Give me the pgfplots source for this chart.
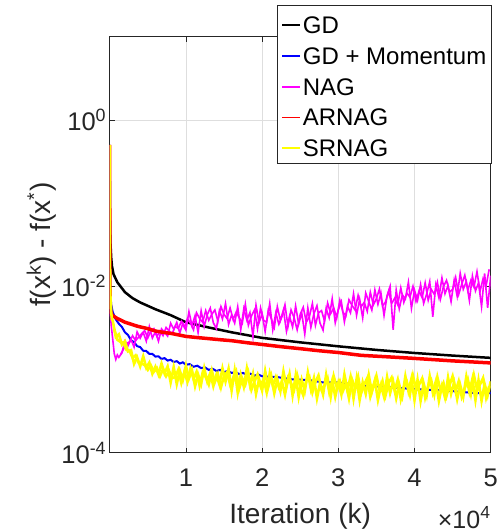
\documentclass[border=0pt]{standalone}
\usepackage{fontspec}
\setmainfont{Liberation Sans}
\usepackage{pgfplots}
\usepackage{pgfplotstable}
\pgfplotsset{compat=1.18}
\definecolor{axc}{RGB}{38,38,38}
\definecolor{grd}{RGB}{222,222,222}
\definecolor{myyellow}{RGB}{255,255,0}
\definecolor{mymag}{RGB}{255,0,255}

\pgfplotstableread{
x y
1 0.45
5 0.2
20 0.09
50 0.05
100 0.033
200 0.022
300 0.0175
500 0.014
1000 0.0112
2000 0.0085
3000 0.0072
4000 0.0064
6000 0.0053
8000 0.0045
10000 0.0037
13000 0.0032
16000 0.0028
20000 0.0024
25000 0.00212
30000 0.0019
35000 0.00172
40000 0.00158
45000 0.00147
50000 0.00138
}\gdtab

\pgfplotstableread{
x y
1 0.5
3 0.2
10 0.04
30 0.011
60 0.0065
100 0.0052
300 0.0045
400 0.00443
600 0.00432
1000 0.0041
1500 0.0039
2000 0.0037
2500 0.00358
3700 0.0033
5000 0.0031
6000 0.0029
7000 0.0028
8200 0.0027
10000 0.0025
11500 0.00242
13000 0.00235
14500 0.00228
16000 0.00222
18000 0.0021
20000 0.0020
22500 0.00188
25000 0.00178
27500 0.00168
30000 0.0016
33000 0.00148
36500 0.00142
40000 0.00136
45000 0.00127
50000 0.0012
}\arnagtab

\pgfplotstableread{
x y
1 0.5
3 0.2
10 0.05
30 0.016
60 0.0105
100 0.0078
200 0.006
400 0.0049
800 0.0040
1200 0.00355
1600 0.00325
2000 0.0028
2400 0.0026
2800 0.00225
3200 0.00213
3600 0.00191
4000 0.00186
4400 0.00168
4800 0.00167
5200 0.00154
5600 0.00154
6000 0.00143
6400 0.00144
6800 0.00134
7200 0.00137
7600 0.00128
8000 0.00131
8400 0.00123
8800 0.00126
9200 0.00118
9600 0.00122
10000 0.00114
10500 0.00116
11000 0.00108
11500 0.00111
12000 0.00104
12500 0.00106
13000 0.00099
13500 0.00102
14000 0.00096
14500 0.00099
15000 0.00093
15500 0.00096
16000 0.00091
16500 0.00093
17000 0.00088
17500 0.00091
18000 0.00086
18500 0.00089
19000 0.00084
19500 0.00087
20000 0.00083
22000 0.00081
24000 0.00076
26000 0.00075
28000 0.00070
30000 0.00070
33000 0.00064
36000 0.00062
40000 0.00058
44000 0.00056
48000 0.00052
50000 0.00052
}\momtab

\pgfplotstableread{
x y
1 0.5
3 0.15
10 0.03
30 0.009
60 0.0055
100 0.0045
200 0.0034
300 0.0028
400 0.0023
600 0.00155
800 0.00132
1000 0.0015
1200 0.0014
1600 0.00158
2000 0.0022
2400 0.00193
2800 0.00229
3200 0.00186
3600 0.00283
4000 0.00238
4400 0.0028
4800 0.00219
5200 0.00328
5600 0.00239
6000 0.00285
6400 0.00219
6800 0.00308
7200 0.0028
7600 0.00252
8000 0.0036
8400 0.00304
8800 0.00368
9200 0.00274
9600 0.00362
10000 0.00298
10400 0.00496
10800 0.00338
11200 0.00443
11600 0.00278
12000 0.00508
12400 0.00328
12800 0.00455
13200 0.00548
13600 0.00365
14000 0.0031
14400 0.00512
14800 0.00405
15200 0.0062
15600 0.00348
16000 0.00453
16400 0.00361
16800 0.00568
17200 0.00302
17600 0.0054
18000 0.00391
18400 0.00483
18800 0.0025
19200 0.00592
19600 0.00365
20000 0.00466
20400 0.00286
20800 0.0051
21200 0.0041
21600 0.0032
22000 0.0057
22400 0.00389
22800 0.00518
23200 0.00288
23600 0.00436
24000 0.00324
24400 0.0058
24800 0.00352
25200 0.00478
25600 0.00267
26000 0.00549
26400 0.0032
26800 0.00469
27200 0.00584
27600 0.00361
28000 0.00297
28400 0.00541
28800 0.00419
29200 0.0071
29600 0.00364
30000 0.0052
30400 0.00653
30800 0.00374
31200 0.00578
31600 0.0048
32000 0.00812
32400 0.00449
32800 0.00696
33200 0.00417
33600 0.00831
34000 0.00655
34400 0.00518
34800 0.00904
35200 0.00607
35600 0.00824
36000 0.00446
36400 0.00768
36800 0.0100
37200 0.0030
37600 0.00902
38000 0.00536
38400 0.0079
38800 0.00706
39200 0.0112
39600 0.00544
40000 0.00897
40400 0.00678
40800 0.0105
41200 0.00624
41600 0.0081
42000 0.0114
42400 0.0043
42800 0.0104
43200 0.00731
43600 0.0126
44000 0.00814
44400 0.0102
44800 0.00655
45200 0.0118
45600 0.00761
46000 0.0143
46400 0.00922
46800 0.0114
47200 0.00676
47600 0.0133
48000 0.0088
48400 0.011
48800 0.00571
49200 0.0143
49600 0.0055
50000 0.0134
}\nagtab

\pgfplotstableread{
x y
1400 0.00150
1800 0.00175
2200 0.00205
2600 0.00215
3000 0.00255
3400 0.00222
3800 0.00245
4200 0.0027
4600 0.00292
5000 0.0024
5400 0.0029
5800 0.0031
6200 0.0025
6600 0.0029
7000 0.00255
7400 0.0032
7800 0.0029
8200 0.0027
8600 0.0033
9000 0.0031
9400 0.0038
9800 0.0032
10200 0.0041
10600 0.0036
11000 0.0030
11400 0.0048
11800 0.0041
12200 0.0037
12600 0.0051
13000 0.0039
13400 0.0046
13800 0.0052
14200 0.0038
14600 0.0057
15000 0.0046
15400 0.0041
15800 0.0055
16200 0.0040
16600 0.0049
17000 0.0042
17400 0.0036
17800 0.0061
18200 0.0034
18600 0.0044
19000 0.0052
19400 0.0031
19800 0.0055
20200 0.0039
20600 0.0037
21000 0.0062
21400 0.0030
21800 0.0048
22200 0.0035
22600 0.0043
23000 0.0060
23400 0.0033
23800 0.0052
24200 0.0042
24600 0.0030
25000 0.0046
25400 0.0056
25800 0.0037
26200 0.0043
26600 0.0062
27000 0.0034
27400 0.0048
27800 0.0051
28200 0.0038
28600 0.0063
29000 0.0047
29400 0.0055
29800 0.0042
30200 0.0068
30600 0.0049
31000 0.0044
31400 0.0069
31800 0.0059
32200 0.0052
32600 0.0078
33000 0.0057
33400 0.0064
33800 0.0050
34200 0.0085
34600 0.0060
35000 0.0071
35400 0.0093
35800 0.0058
36200 0.0065
36600 0.0087
37000 0.0062
37400 0.0072
37800 0.0060
38200 0.0096
38600 0.0064
39000 0.0083
39400 0.0074
39800 0.0100
40200 0.0066
40600 0.0088
41000 0.0073
41400 0.0110
41800 0.0068
42200 0.0092
42600 0.0080
43000 0.0112
43400 0.0070
43800 0.0099
44200 0.0118
44600 0.0085
45000 0.0092
45400 0.0128
45800 0.0080
46200 0.0106
46600 0.0136
47000 0.0090
47400 0.0118
47800 0.0098
48200 0.0150
48600 0.0087
49000 0.0124
49400 0.0102
49800 0.0160
}\nagbtab

\pgfplotstableread{
x y
1 0.5
3 0.2
10 0.05
30 0.017
60 0.01
100 0.0075
200 0.0048
300 0.0040
400 0.00385
800 0.00246
1200 0.00265
1600 0.0020
2000 0.00219
2400 0.00165
2800 0.00171
3200 0.00117
3600 0.0014
4000 0.00109
4400 0.00144
4800 0.00105
5200 0.00121
5600 0.00089
6000 0.00108
6400 0.00087
6800 0.00118
7200 0.0009
7600 0.00109
8000 0.0007
8400 0.00107
8800 0.00067
9200 0.00097
9600 0.00075
10000 0.00111
10400 0.00078
10800 0.00098
11200 0.00063
11600 0.00087
12000 0.00067
12400 0.00104
12800 0.00072
13200 0.00091
13600 0.00063
14000 0.00086
14400 0.00066
14800 0.00103
15200 0.00072
15600 0.00102
16000 0.00056
16400 0.00097
16800 0.00053
17200 0.00086
17600 0.00062
18000 0.00103
18400 0.00065
18800 0.00089
19200 0.00051
19600 0.00076
20000 0.00056
20400 0.00096
20800 0.00061
21200 0.00083
21600 0.00052
22000 0.00076
22400 0.00055
22800 0.00095
23200 0.00062
23600 0.00088
24000 0.00049
24400 0.00084
24800 0.00047
25200 0.00075
25600 0.00055
26000 0.00092
26400 0.00058
26800 0.00079
27200 0.00045
27600 0.00068
28000 0.00050
28400 0.00086
28800 0.00054
29200 0.00074
29600 0.00047
30000 0.00069
30400 0.00050
30800 0.00087
31200 0.00057
31600 0.00081
32000 0.00045
32400 0.00077
32800 0.00043
33200 0.00070
33600 0.00051
34000 0.00085
34400 0.00054
34800 0.00074
35200 0.00043
35600 0.00064
36000 0.00047
36400 0.00081
36800 0.00052
37200 0.00071
37600 0.00045
38000 0.00066
38400 0.00048
38800 0.00083
39200 0.00055
39600 0.00078
40000 0.00043
40400 0.00075
40800 0.00042
41200 0.00068
41600 0.00049
42000 0.00083
42400 0.00053
42800 0.00072
43200 0.00042
43600 0.00063
44000 0.00046
44400 0.00080
44800 0.00051
45200 0.00070
45600 0.00044
46000 0.00065
46400 0.00047
46800 0.00082
47200 0.00054
47600 0.00077
48000 0.00043
48400 0.00074
48800 0.00042
49200 0.00067
49600 0.00049
50000 0.00072
}\srnagtab

\pgfplotstableread{
x y
600 0.00305
1000 0.00228
1400 0.00215
1800 0.00208
2200 0.00172
2600 0.00168
3000 0.00138
3400 0.00148
3800 0.00121
4200 0.00118
4600 0.00113
5000 0.00099
5400 0.00112
5800 0.00094
6200 0.00104
6600 0.00083
7000 0.00101
7400 0.00083
7800 0.00096
8200 0.00079
8600 0.00081
9000 0.00099
9400 0.00069
9800 0.00094
10200 0.00071
10600 0.00102
11000 0.00077
11400 0.00094
11800 0.00064
12200 0.00092
12600 0.00081
13000 0.00066
13400 0.00097
13800 0.00071
14200 0.00088
14600 0.00061
15000 0.00084
15400 0.00093
15800 0.00066
16200 0.00079
16600 0.00095
17000 0.00059
17400 0.00078
17800 0.00066
18200 0.00091
18600 0.00057
19000 0.00072
19400 0.00087
19800 0.00063
20200 0.00077
20600 0.00053
21000 0.00090
21400 0.00064
21800 0.00081
22200 0.00061
22600 0.00072
23000 0.00050
23400 0.00079
23800 0.00068
24200 0.00057
24600 0.00086
25000 0.00062
25400 0.00049
25800 0.00074
26200 0.00082
26600 0.00053
27000 0.00071
27400 0.00085
27800 0.00058
28200 0.00064
28600 0.00078
29000 0.00047
29400 0.00083
29800 0.00061
30200 0.00073
30600 0.00055
31000 0.00068
31400 0.00045
31800 0.00076
32200 0.00060
32600 0.00082
33000 0.00052
33400 0.00066
33800 0.00079
34200 0.00047
34600 0.00063
35000 0.00084
35400 0.00057
35800 0.00073
36200 0.00049
36600 0.00069
37000 0.00080
37400 0.00056
37800 0.00075
38200 0.00044
38600 0.00062
39000 0.00071
39400 0.00050
39800 0.00084
40200 0.00059
40600 0.00066
41000 0.00078
41400 0.00046
41800 0.00063
42200 0.00074
42600 0.00050
43000 0.00081
43400 0.00057
43800 0.00069
44200 0.00048
44600 0.00065
45000 0.00083
45400 0.00055
45800 0.00072
46200 0.00047
46600 0.00060
47000 0.00076
47400 0.00051
47800 0.00085
48200 0.00058
48600 0.00066
49000 0.00079
49400 0.00046
49800 0.00063
}\srnagbtab

\begin{document}
\begin{tikzpicture}
\path[use as bounding box] (-109.7pt,-79.3pt) rectangle (391.3pt,452.7pt);
\begin{axis}[
  name=ax,
  at={(0pt,0pt)}, anchor=south west,
  scale only axis, width=381pt, height=416pt,
  xmin=0, xmax=50000, ymin=1e-4, ymax=10,
  ymode=log,
  xtick={10000,20000,30000,40000,50000},
  xticklabels={1,2,3,4,5},
  scaled x ticks=false,
  ytick={1e-4,1e-2,1},
  yticklabels={10\textsuperscript{-4},10\textsuperscript{-2},10\textsuperscript{0}},
  minor ytick={},
  grid=major,
  major grid style={grd, line width=0.8pt},
  axis line style={axc, line width=0.8pt},
  tick style={axc, line width=0.8pt},
  major tick length=5pt,
  tick label style={font=\fontsize{25.5}{30}\selectfont, text=axc},
  xticklabel style={anchor=base, yshift=-34pt},
  xlabel={Iteration (k)},
  ylabel={f(x\textsuperscript{k}) - f(x\textsuperscript{*})},
  every axis x label/.style={at={(axis description cs:0.5,0)}, anchor=base, yshift=-70.6pt, font=\fontsize{28}{33}\selectfont, text=axc},
  every axis y label/.style={at={(axis description cs:-0.1567,0.5)}, anchor=base, rotate=90, font=\fontsize{28}{33}\selectfont, text=axc},
]
\addplot[black, line width=2.5pt] table {\gdtab};
\addplot[blue, line width=2pt] table {\momtab};
\addplot[mymag, line width=1.6pt] table {\nagtab};
\addplot[mymag, line width=1.6pt] table {\nagbtab};
\addplot[red, line width=3.5pt] table {\arnagtab};
\addplot[myyellow, line width=2.6pt] table {\srnagtab};
\addplot[myyellow, line width=2.6pt] table {\srnagbtab};
\end{axis}
% legend box
\filldraw[fill=white, draw=axc, line width=0.8pt] (167.3pt,289.7pt) rectangle (381.3pt,447.7pt);
\draw[black, line width=1.6pt] (172.3pt,427.7pt) -- (190.3pt,427.7pt);
\draw[blue, line width=1.6pt] (172.3pt,396.7pt) -- (190.3pt,396.7pt);
\draw[mymag, line width=1.6pt] (172.3pt,365.7pt) -- (190.3pt,365.7pt);
\draw[red, line width=1.6pt] (172.3pt,335.2pt) -- (190.3pt,335.2pt);
\draw[myyellow, line width=1.6pt] (172.3pt,304.7pt) -- (190.3pt,304.7pt);
\begin{scope}[every node/.style={anchor=base west, inner sep=0pt, font=\fontsize{24}{28}\selectfont}]
\node at (193pt,419.3pt) {GD};
\node at (193pt,388.3pt) {GD + Momentum};
\node at (193pt,357.3pt) {NAG};
\node at (193pt,326.8pt) {ARNAG};
\node at (193pt,296.3pt) {SRNAG};
\end{scope}
\node[anchor=base east, font=\fontsize{25}{30}\selectfont, text=axc, inner sep=0pt] at ([yshift=-75.3pt]ax.south east) {×10\textsuperscript{4}};
\end{tikzpicture}
\end{document}
